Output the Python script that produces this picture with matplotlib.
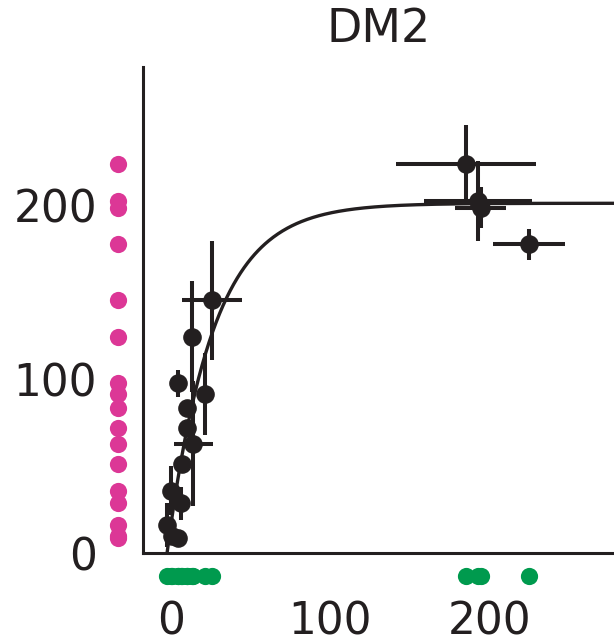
import numpy as np
import matplotlib
matplotlib.use('Agg')
import matplotlib.pyplot as plt
import matplotlib.transforms as mtransforms

# measured points (x, y) with symmetric errors
x_vals = [25.6, 13.0, 4.6, 21.4, 10.2, 9.9, 14.0, 6.6, -0.2, 6.1, -2.7, 0.6, 4.1,
          185.3, 192.5, 194.5, 224.9]
y_vals = [145.5, 124.6, 97.7, 91.6, 83.6, 72.0, 63.0, 51.1, 36.0, 28.7, 16.3, 9.7, 8.6,
          224.4, 203.0, 199.0, 177.9]
x_err = [18.8, 0, 0, 0, 0, 0, 12.2, 0, 0, 0, 0, 0, 0,
         44.0, 34.0, 16.0, 22.6]
y_err = [34.3, 32.0, 8.0, 23.7, 0, 0, 36.0, 0, 14.0, 9.5, 12.7, 0, 0,
         22.3, 23.0, 12.0, 9.0]

# saturating fit: y = top * (1 - exp(-rate * (x - x_start)))
fit_top = 201.5
fit_rate = 0.035
fit_start = -2.5

x_ticks = [0, 100, 200]
y_ticks = [0, 100, 200]
title = 'DM2'

INK = '#231f20'
PINK = '#dc3796'
GREEN = '#009a4e'

plt.rcParams['font.family'] = ['DejaVu Sans']

fig = plt.figure(figsize=(6.14, 6.42), dpi=100)
fig.patch.set_facecolor('white')
ax = fig.add_axes([0.2329, 0.1386, 0.7671, 0.757])

ax.errorbar(x_vals, y_vals, xerr=x_err, yerr=y_err, fmt='o', color=INK,
            ms=12.4, elinewidth=2.9, capsize=0, zorder=3)

xs = np.linspace(fit_start, 290, 400)
ax.plot(xs, fit_top * (1 - np.exp(-fit_rate * (xs - fit_start))),
        color=INK, lw=2.4, zorder=2)

# marginal rugs outside the axes
ytr = mtransforms.blended_transform_factory(ax.transAxes, ax.transData)
ax.plot([-0.053] * len(y_vals), y_vals, 'o', color=PINK, ms=12.4,
        mec='none', transform=ytr, clip_on=False)
xtr = mtransforms.blended_transform_factory(ax.transData, ax.transAxes)
ax.plot(x_vals, [-0.047] * len(x_vals), 'o', color=GREEN, ms=12.4,
        mec='none', transform=xtr, clip_on=False)

ax.set_xlim(-17.6, 278)
ax.set_ylim(2.3, 280)
ax.set_xticks(x_ticks)
ax.set_yticks(y_ticks)
ax.tick_params(length=0, labelsize=31.5, colors=INK)
ax.tick_params(axis='y', pad=33)
ax.tick_params(axis='x', pad=34)

for side in ['top', 'right']:
    ax.spines[side].set_visible(False)
for side in ['left', 'bottom']:
    ax.spines[side].set_linewidth(2.2)
    ax.spines[side].set_color(INK)

ax.set_title(title, fontsize=33, color=INK, pad=18)

fig.savefig('out.png', dpi=100, facecolor='white')
